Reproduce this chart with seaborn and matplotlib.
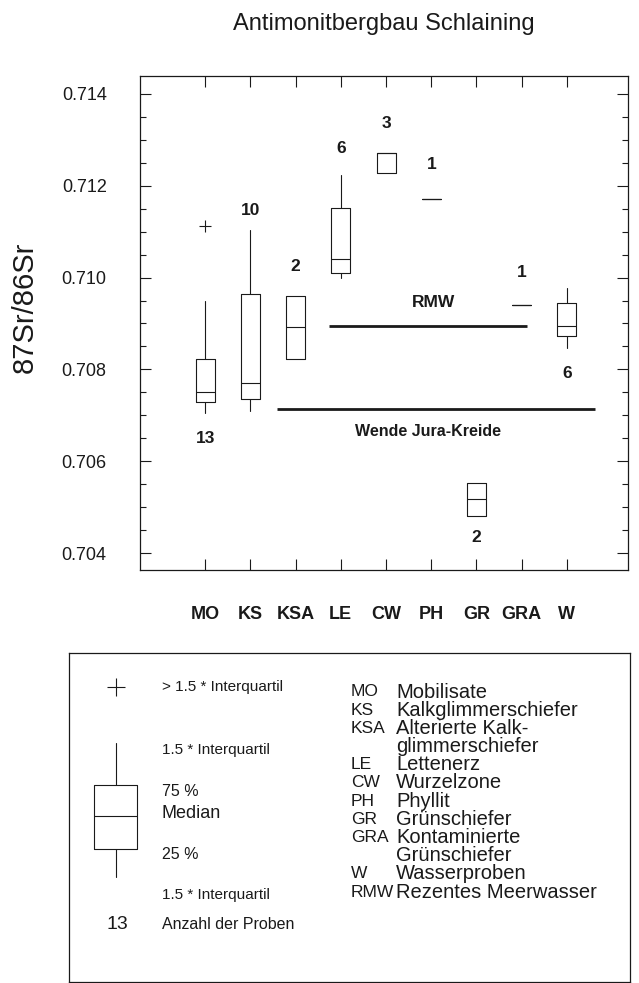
import numpy as np
import seaborn as sns
from matplotlib import pyplot as plt
from matplotlib.ticker import MultipleLocator, FormatStrFormatter

# data
categories = ['MO', 'KS', 'KSA', 'LE', 'CW', 'PH', 'GR', 'GRA', 'W']
counts = [13, 10, 2, 6, 3, 1, 2, 1, 6]
whis_low = [0.70705, 0.70709, 0.70823, 0.70999, 0.71228, 0.71171, 0.70480, 0.70940, 0.70847]
q1 = [0.70729, 0.70735, 0.70823, 0.71010, 0.71228, 0.71171, 0.70480, 0.70940, 0.70873]
median = [0.70751, 0.70770, 0.70892, 0.71040, 0.71271, 0.71171, 0.70518, 0.70940, 0.70894]
q3 = [0.70823, 0.70964, 0.70960, 0.71152, 0.71271, 0.71171, 0.70552, 0.70940, 0.70945]
whis_high = [0.70949, 0.71104, 0.70960, 0.71224, 0.71271, 0.71171, 0.70552, 0.70940, 0.70977]
outlier_cat = ['MO']
outlier_val = [0.71112]

rmw_value = 0.70894
rmw_span = (2.74, 7.12)
jura_value = 0.70714
jura_span = (1.59, 8.62)

abbrev = ['MO', 'KS', 'KSA', '', 'LE', 'CW', 'PH', 'GR', 'GRA', '', 'W', 'RMW']
abbrev_text = ['Mobilisate', 'Kalkglimmerschiefer', 'Alterierte Kalk-', 'glimmerschiefer',
               'Lettenerz', 'Wurzelzone', 'Phyllit', 'Grünschiefer', 'Kontaminierte',
               'Grünschiefer', 'Wasserproben', 'Rezentes Meerwasser']

# where the sample counts sit (y in data units)
count_label_y = [0.70650, 0.71147, 0.71023, 0.71282, 0.71335, 0.71247, 0.70433, 0.71012, 0.70790]

sns.set_theme(style='ticks')
plt.rcParams['font.family'] = ['Liberation Sans', 'DejaVu Sans']
ink = '#1a1a1a'

W, H = 639, 983
fig = plt.figure(figsize=(W / 100, H / 100), dpi=100)
ax = fig.add_axes([140 / W, (H - 570) / H, 488 / W, 494 / H])

pos = np.arange(len(categories))
stats = []
for i, c in enumerate(categories):
    stats.append({'label': c, 'whislo': whis_low[i], 'q1': q1[i], 'med': median[i],
                  'q3': q3[i], 'whishi': whis_high[i], 'fliers': []})

line = dict(color=ink, linewidth=0.8)
ax.bxp(stats, positions=pos, widths=0.42, showcaps=False, showfliers=False,
       boxprops=line, whiskerprops=line, medianprops=line)

sns.scatterplot(x=[categories.index(c) for c in outlier_cat], y=outlier_val, marker='+',
                s=70, color=ink, linewidth=0.8, ax=ax, legend=False)

ax.hlines(rmw_value, *rmw_span, color=ink, linewidth=2)
ax.hlines(jura_value, *jura_span, color=ink, linewidth=2)
ax.text(5.04, 0.70945, 'RMW', ha='center', va='center', fontsize=12.5, fontweight='bold', color=ink)
ax.text(4.93, 0.70664, 'Wende Jura-Kreide', ha='center', va='center', fontsize=11.5,
        fontweight='bold', color=ink)

for i, n in enumerate(counts):
    ax.text(pos[i], count_label_y[i], str(n), ha='center', va='center', fontsize=12.5,
            fontweight='bold', color=ink)

ax.set_xlim(-1.44, 9.35)
ax.set_ylim(0.70363, 0.71439)
ax.set_xticks(pos)
ax.set_xticklabels(categories, fontsize=13, fontweight='bold', color=ink)
ax.yaxis.set_major_locator(MultipleLocator(0.002))
ax.yaxis.set_minor_locator(MultipleLocator(0.0005))
ax.yaxis.set_major_formatter(FormatStrFormatter('%.3f'))
ax.tick_params(axis='x', direction='in', top=True, length=8, width=0.8, pad=26, color=ink)
ax.tick_params(axis='y', which='major', direction='in', right=True, length=8, width=0.8,
               pad=24, labelsize=13, color=ink, labelcolor=ink)
ax.tick_params(axis='y', which='minor', direction='in', right=True, length=4, width=0.8, color=ink)
ax.set_xlabel('')
ax.set_ylabel('')
for s in ax.spines.values():
    s.set_color(ink)
    s.set_linewidth(0.9)
    s.set_visible(True)

fig.text(384 / W, 1 - 30 / H, 'Antimonitbergbau Schlaining', ha='center', va='baseline',
         fontsize=17, color=ink)
fig.text(25 / W, 1 - 307 / H, '87Sr/86Sr', ha='center', va='center', rotation=90,
         fontsize=21, color=ink)

# legend panel, drawn in pixel units
lg = fig.add_axes([69 / W, (H - 982) / H, 561 / W, 329 / H])
lg.set_xlim(69, 630)
lg.set_ylim(982, 653)
lg.set_xticks([])
lg.set_yticks([])
for s in lg.spines.values():
    s.set_color(ink)
    s.set_linewidth(0.9)

lg.bxp([{'whislo': 877, 'q1': 849, 'med': 816, 'q3': 785, 'whishi': 743, 'fliers': []}],
       positions=[116], widths=43, showcaps=False, showfliers=False,
       boxprops=line, whiskerprops=line, medianprops=line, manage_ticks=False)
lg.scatter([116], [687], marker='+', s=160, color=ink, linewidth=0.8)

left_rows = [('> 1.5 * Interquartil', 687, 11), ('1.5 * Interquartil', 750, 11),
             ('75 %', 792, 11.5), ('Median', 814, 13), ('25 %', 855, 11.5),
             ('1.5 * Interquartil', 895, 11), ('Anzahl der Proben', 925, 11.5)]
for txt, y, fs in left_rows:
    lg.text(162, y, txt, ha='left', va='center', fontsize=fs, color=ink)
lg.text(117, 925, '13', ha='center', va='center', fontsize=14, color=ink)

for i, (a, t) in enumerate(zip(abbrev, abbrev_text)):
    y = 692 + 18.2 * i
    if a:
        lg.text(351, y, a, ha='left', va='center', fontsize=12.5, color=ink)
    lg.text(396, y, t, ha='left', va='center', fontsize=14.5, color=ink)

fig.savefig('out.png', dpi=100)
